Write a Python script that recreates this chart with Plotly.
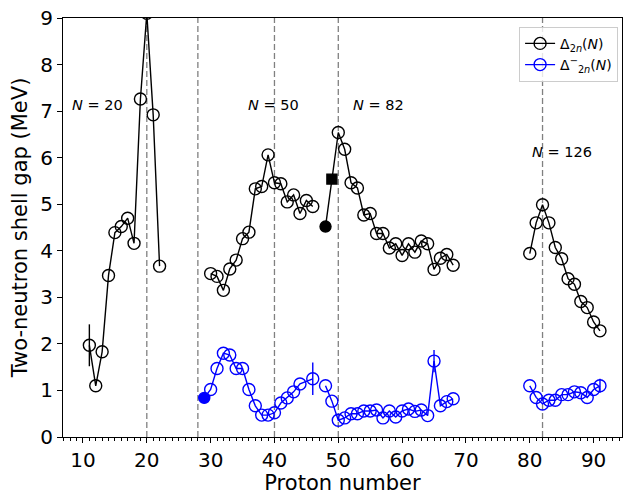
import plotly.graph_objects as go

# ---------------- data ----------------
# Two-neutron shell gap Delta_2n(N), black series, in segments
z_black_1 = list(range(11, 23))
gap_black_1 = [1.97, 1.10, 1.83, 3.47, 4.39, 4.52, 4.70, 4.16, 7.26, 9.10, 6.92, 3.67]
err_black_1 = [0.45, 0, 0, 0, 0, 0, 0, 0, 0, 0, 0, 0]

z_black_2 = list(range(30, 47))
gap_black_2 = [3.51, 3.45, 3.15, 3.61, 3.80, 4.26, 4.40, 5.33, 5.38, 6.06,
               5.46, 5.44, 5.05, 5.20, 4.80, 5.08, 4.95]

z_black_3 = list(range(48, 69))
gap_black_3 = [4.52, 5.54, 6.54, 6.18, 5.46, 5.35, 4.77, 4.80, 4.37, 4.37,
               4.06, 4.15, 3.90, 4.15, 3.97, 4.21, 4.15, 3.60, 3.84, 3.92, 3.69]

z_black_4 = list(range(80, 92))
gap_black_4 = [3.94, 4.60, 4.99, 4.60, 4.07, 3.83, 3.40, 3.28, 2.91, 2.78, 2.47, 2.28]

# Delta^-_2n(N), blue series, in segments
z_blue_1 = list(range(29, 45)) + [46]
gap_blue_1 = [0.84, 1.02, 1.47, 1.80, 1.76, 1.47, 1.47, 1.02, 0.67, 0.47,
              0.47, 0.52, 0.73, 0.84, 0.97, 1.14, 1.25]
err_blue_1 = [0] * 16 + [0.35]

z_blue_2 = list(range(48, 69))
gap_blue_2 = [1.10, 0.77, 0.36, 0.41, 0.50, 0.50, 0.56, 0.56, 0.58, 0.41,
              0.56, 0.43, 0.56, 0.60, 0.55, 0.58, 0.46, 1.63, 0.67, 0.76, 0.82]
err_blue_2 = [0] * 17 + [0.24, 0, 0, 0]

z_blue_3 = list(range(80, 92))
gap_blue_3 = [1.10, 0.85, 0.71, 0.79, 0.79, 0.91, 0.91, 0.97, 0.95, 0.85, 1.02, 1.10]
err_blue_3 = [0] * 11 + [0.15]

# special (filled) points
black_filled_circle_z = [48]
black_filled_square_z = [49]
blue_filled_circle_z = [29]

# magic neutron numbers (vertical dashed lines) and labels
magic_lines = [20, 28, 40, 50, 82]
label_texts = ["<i>N</i> = 20", "<i>N</i> = 50", "<i>N</i> = 82", "<i>N</i> = 126"]
label_x = [8, 35.5, 52, 80]
label_y = [7, 7, 7, 6]

x_ticks = [10, 20, 30, 40, 50, 60, 70, 80, 90]
y_ticks = [0, 1, 2, 3, 4, 5, 6, 7, 8, 9]


def join(segs):
    out = []
    for i, s in enumerate(segs):
        if i:
            out.append(None)
        out.extend(s)
    return out


FONT = "DejaVu Sans"

fig = go.Figure()

# ---- black series ----
xb = join([z_black_1, z_black_2, z_black_3, z_black_4])
yb = join([gap_black_1, gap_black_2, gap_black_3, gap_black_4])
eb = join([err_black_1, [0] * len(z_black_2), [0] * len(z_black_3), [0] * len(z_black_4)])
sym_b, size_b = [], []
for z in xb:
    if z in black_filled_circle_z:
        sym_b.append("circle"); size_b.append(11)
    elif z in black_filled_square_z:
        sym_b.append("square"); size_b.append(10)
    else:
        sym_b.append("circle-open"); size_b.append(12)

fig.add_trace(go.Scatter(
    x=xb, y=yb, mode="lines+markers",
    name="Δ<sub>2<i>n</i></sub>(<i>N</i>)",
    line=dict(color="black", width=1.4),
    marker=dict(symbol=sym_b, size=size_b, color="black", opacity=1,
                line=dict(color="black", width=1.4)),
    error_y=dict(type="data", array=eb, visible=True, color="black",
                 thickness=1.4, width=0),
    connectgaps=False,
))

# ---- blue series (segment order chosen so an open circle comes first) ----
xl = join([z_blue_3, z_blue_1, z_blue_2])
yl = join([gap_blue_3, gap_blue_1, gap_blue_2])
el = join([err_blue_3, err_blue_1, err_blue_2])
sym_l, size_l = [], []
for z in xl:
    if z in blue_filled_circle_z:
        sym_l.append("circle"); size_l.append(11)
    else:
        sym_l.append("circle-open"); size_l.append(12)

fig.add_trace(go.Scatter(
    x=xl, y=yl, mode="lines+markers",
    name="Δ<sup>−</sup><sub>2<i>n</i></sub>(<i>N</i>)",
    line=dict(color="blue", width=1.4),
    marker=dict(symbol=sym_l, size=size_l, color="blue", opacity=1,
                line=dict(color="blue", width=1.4)),
    error_y=dict(type="data", array=el, visible=True, color="blue",
                 thickness=1.4, width=0),
    connectgaps=False,
))

shapes = [dict(type="line", xref="x", yref="paper", x0=v, x1=v, y0=0, y1=1,
               line=dict(color="gray", width=1.3, dash="6px,3px"), layer="below")
          for v in magic_lines]

annotations = [dict(x=x, y=y, xref="x", yref="y", text=t, showarrow=False,
                    xanchor="left", yanchor="bottom", yshift=-4,
                    font=dict(family=FONT, size=14.5, color="black"))
               for t, x, y in zip(label_texts, label_x, label_y)]

fig.update_layout(
    width=623, height=495,
    margin=dict(l=63, r=1, t=18, b=58, autoexpand=False),
    paper_bgcolor="white", plot_bgcolor="white",
    font=dict(family=FONT, color="black"),
    shapes=shapes, annotations=annotations,
    showlegend=True,
    legend=dict(x=0.993, y=0.979, xanchor="right", yanchor="top",
                bgcolor="rgba(255,255,255,0.8)", bordercolor="#cccccc", borderwidth=1,
                font=dict(family=FONT, size=14),
                tracegroupgap=0),
)

fig.update_xaxes(
    range=[6.87, 94.45], tickvals=x_ticks, automargin=False,
    showline=True, mirror=True, linecolor="black", linewidth=1,
    ticks="outside", ticklen=5, tickwidth=1, tickcolor="black",
    minor=dict(dtick=1, tick0=0, ticks="outside", ticklen=2.5, tickcolor="black", tickwidth=0.8),
    showgrid=False, zeroline=False,
    tickfont=dict(family=FONT, size=20),
    title=dict(text="Proton number", font=dict(family=FONT, size=21), standoff=4),
)
fig.update_yaxes(
    range=[0, 9], tickvals=y_ticks, automargin=False,
    showline=True, mirror=True, linecolor="black", linewidth=1,
    ticks="outside", ticklen=5, tickwidth=1, tickcolor="black",
    showgrid=False, zeroline=False,
    tickfont=dict(family=FONT, size=20),
    title=dict(text="Two-neutron shell gap (MeV)", font=dict(family=FONT, size=21), standoff=6),
)

fig.write_html("out.html", config={"displayModeBar": False},
               post_script="document.body.style.margin='0';")
